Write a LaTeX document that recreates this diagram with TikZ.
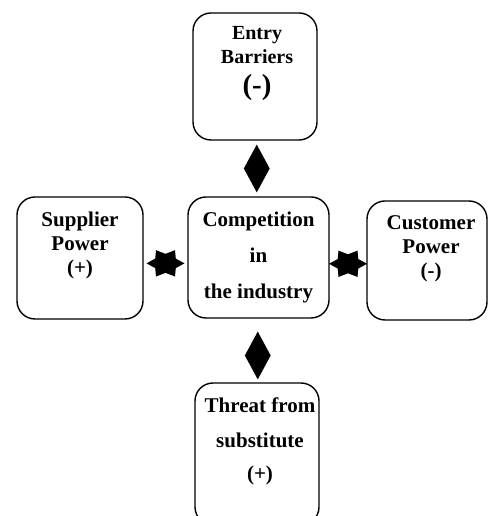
\documentclass[tikz,border=0pt]{standalone}
\usepackage{fontspec}
\setmainfont{Liberation Serif}
\usetikzlibrary{shapes.geometric,positioning,calc}

\begin{document}
\begin{tikzpicture}[
      x=1pt, y=1pt,
      force/.style={draw, line width=1.4pt, rounded corners=18pt},
      lbl/.style={align=center, inner sep=0pt,
        font=\bfseries\fontsize{21}{24}\selectfont},
      vlink/.style={diamond, fill, inner sep=0pt,
        minimum width=26pt, minimum height=48pt},
      hlink/.style={star, star points=6, star point ratio=1.6,
        shape border rotate=30, fill, inner sep=0pt,
        minimum size=38pt, yscale=0.8}]
    \useasboundingbox (0,0) rectangle (489,516);
    \clip (0,0) rectangle (489,516);
    % the five forces
    \node[force, minimum width=141pt, minimum height=121pt] (rival) at (258.5,258.5) {};
    \node[force, minimum width=124pt, minimum height=127pt] (barrier) at (255,439.5) {};
    \node[force, minimum width=126pt, minimum height=122pt] (supplier) at (80,258) {};
    \node[force, minimum width=120pt, minimum height=119pt] (customer) at (427,255.5) {};
    \node[force, minimum width=124pt, minimum height=142pt] (subst) at (257,62) {};
    % their texts
    \node[lbl, below=14pt of barrier.north, xshift=2pt, font=\bfseries\fontsize{20}{23.5}\selectfont] (barrierTxt)
      {Entry\\Barriers\\[8pt]{\fontsize{29}{30}\selectfont(-)}};
    \node[lbl, below=15pt of rival.north] (rivalTxt)
      {Competition\\[12pt]in\\[12pt]the industry};
    \node[lbl, below=15pt of supplier.north] (supplierTxt)
      {Supplier\\Power\\(+)};
    \node[lbl, below=15pt of customer.north, xshift=4pt] (customerTxt)
      {Customer\\Power\\(-)};
    \node[lbl, below=15pt of subst.north, xshift=3pt] (substTxt)
      {Threat from\\[11pt]substitute\\[9pt](+)};
    % links between them
    \node[vlink] (topLink) at ($(barrier.south)!0.5!(rival.north)$) {};
    \node[vlink, yshift=-5pt] (botLink) at ($(rival.south)!0.5!(subst.north)$) {};
    \node[hlink, yshift=-7pt] (leftLink) at ($(supplier.east)!0.5!(rival.west)$) {};
    \node[hlink, yshift=-6pt] (rightLink) at ($(rival.east)!0.5!(customer.west)$) {};
  \end{tikzpicture}
\end{document}
